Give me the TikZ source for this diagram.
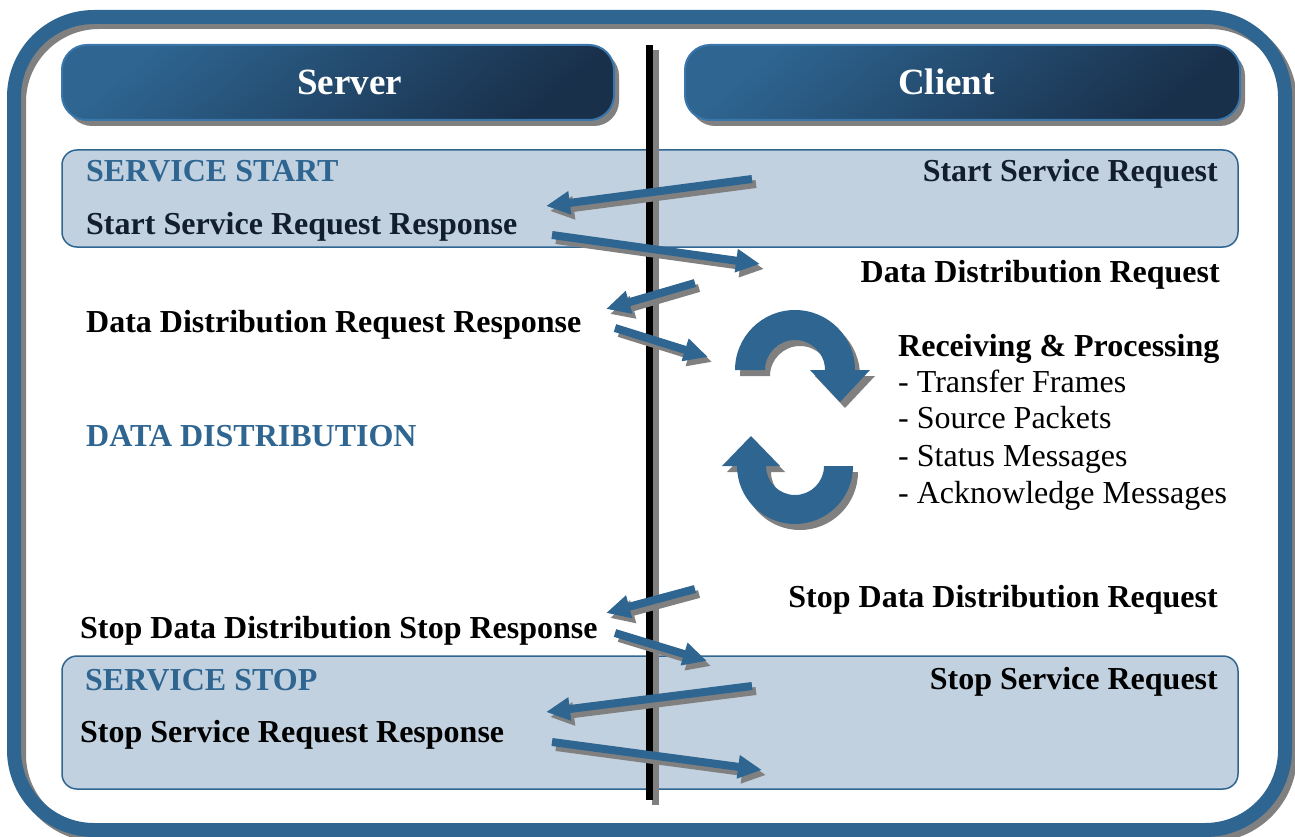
\documentclass[tikz,border=0pt]{standalone}
\usepackage{fontspec}
\setmainfont{Liberation Serif}
\usetikzlibrary{arrows.meta,shadows}
\definecolor{mainblue}{RGB}{46,101,145}
\definecolor{darkblue}{RGB}{25,48,75}
\definecolor{lightfill}{RGB}{193,209,223}
\definecolor{shadowgray}{RGB}{128,128,128}
\definecolor{navytext}{RGB}{18,30,44}
\definecolor{hdrborder}{RGB}{58,118,170}
\tikzset{
  hdrbox/.style={rounded corners=25pt, draw=hdrborder, line width=2pt,
    top color=mainblue, bottom color=darkblue, shading angle=40,
    drop shadow={shadow xshift=5pt, shadow yshift=-6pt, fill=shadowgray, opacity=1},
    inner sep=0pt},
  hdrtext/.style={text=white, font=\fontsize{37}{44}\selectfont\bfseries, inner sep=0pt, anchor=base},
  phasebox/.style={rounded corners=15pt, draw=mainblue, line width=1.5pt, fill=lightfill},
  lbl/.style={inner sep=0pt, font=\fontsize{32}{38}\selectfont\bfseries},
  reg/.style={inner sep=0pt, font=\fontsize{32}{38}\selectfont, anchor=base west},
  phase/.style={lbl, text=mainblue, anchor=base west},
  flowarrow/.style={line width=8pt, -{Triangle[length=24pt,width=22pt]}},
  shadowshift/.style={transform canvas={xshift=4pt,yshift=-5pt}},
}
\newcommand\msgarrow[2]{%
  \draw[flowarrow, shadowgray, shadowshift] (#1) -- (#2);
  \draw[flowarrow, mainblue] (#1) -- (#2);}
\begin{document}
\begin{tikzpicture}[x=1pt,y=-1pt]
\useasboundingbox (0,0) rectangle (1295,837);
% outer frame
\draw[shadowgray, line width=14pt, rounded corners=80pt, transform canvas={xshift=5pt,yshift=-5pt}] (14,17) rectangle (1285,830);
\draw[mainblue, line width=14pt, rounded corners=80pt] (14,17) rectangle (1285,830);
% headers
\node[hdrbox, minimum width=552pt, minimum height=75pt] (serverbox) at (338,82.5) {};
\node[hdrbox, minimum width=555pt, minimum height=75pt] (clientbox) at (962.5,82.5) {};
\node[hdrtext] (servertxt) at (349.5,95) {Server};
\node[hdrtext] (clienttxt) at (946.5,95) {Client};
% phase boxes
\draw[phasebox] (62,150) rectangle (1238,247);
\draw[phasebox] (62,656) rectangle (1238,789);
% time line
\coordinate (vtop) at (649.5,45);
\coordinate (vbot) at (649.5,800);
\draw[shadowgray, line width=7pt, transform canvas={xshift=6pt,yshift=-5pt}] (vtop) -- (vbot);
\draw[black, line width=7pt] (vtop) -- (vbot);
% message arrows
\coordinate (a1s) at (752,179); \coordinate (a1e) at (546,206);
\coordinate (a2s) at (552,235); \coordinate (a2e) at (760,264);
\coordinate (a3s) at (695,283); \coordinate (a3e) at (606,309);
\coordinate (a4s) at (615,328); \coordinate (a4e) at (708,357);
\coordinate (a5s) at (695,589); \coordinate (a5e) at (606,613);
\coordinate (a6s) at (615,633); \coordinate (a6e) at (707,661);
\coordinate (a7s) at (752,686); \coordinate (a7e) at (546,712);
\coordinate (a8s) at (552,742); \coordinate (a8e) at (762,770);
\msgarrow{a1s}{a1e}
\msgarrow{a2s}{a2e}
\msgarrow{a3s}{a3e}
\msgarrow{a4s}{a4e}
\msgarrow{a5s}{a5e}
\msgarrow{a6s}{a6e}
\msgarrow{a7s}{a7e}
\msgarrow{a8s}{a8e}
% cycle arrows
\fill[shadowgray, transform canvas={xshift=5pt,yshift=-6pt}] (735,370) arc[start angle=180, end angle=360, radius=60] -- (870,370) -- (840,402) -- (810,370) -- (825,370) arc[start angle=0, end angle=-180, radius=30] -- cycle;
\fill[mainblue] (735,370) arc[start angle=180, end angle=360, radius=60] -- (870,370) -- (840,402) -- (810,370) -- (825,370) arc[start angle=0, end angle=-180, radius=30] -- cycle;
\fill[shadowgray, transform canvas={xshift=5pt,yshift=-6pt}] (853,466) arc[start angle=0, end angle=180, radius=58] -- (722,466) -- (751,436) -- (780,466) -- (766,466) arc[start angle=180, end angle=0, radius=29] -- cycle;
\fill[mainblue] (853,466) arc[start angle=0, end angle=180, radius=58] -- (722,466) -- (751,436) -- (780,466) -- (766,466) arc[start angle=180, end angle=0, radius=29] -- cycle;
% texts
\node[phase] (sstart) at (86,182) {SERVICE START};
\node[lbl, text=navytext, anchor=base east] (ssreq) at (1218,182) {Start Service Request};
\node[lbl, text=navytext, anchor=base west] (ssresp) at (86,234) {Start Service Request Response};
\node[lbl, anchor=base east] (ddreq) at (1220,282) {Data Distribution Request};
\node[lbl, anchor=base west] (ddresp) at (86,332) {Data Distribution Request Response};
\node[lbl, anchor=base west] (recv) at (898,356) {Receiving \& Processing};
\node[reg] (tf) at (898,392) {- Transfer Frames};
\node[reg] (sp) at (898,428) {- Source Packets};
\node[reg] (sm) at (898,466) {- Status Messages};
\node[reg] (am) at (898,503) {- Acknowledge Messages};
\node[phase] (ddist) at (86,446) {DATA DISTRIBUTION};
\node[lbl, anchor=base east] (sddreq) at (1218,607) {Stop Data Distribution Request};
\node[lbl, anchor=base west] (sddresp) at (80,638) {Stop Data Distribution Stop Response};
\node[phase] (sstop) at (85,690) {SERVICE STOP};
\node[lbl, anchor=base east] (ssreq2) at (1218,689) {Stop Service Request};
\node[lbl, anchor=base west] (ssresp2) at (80,742) {Stop Service Request Response};
\end{tikzpicture}
\end{document}
